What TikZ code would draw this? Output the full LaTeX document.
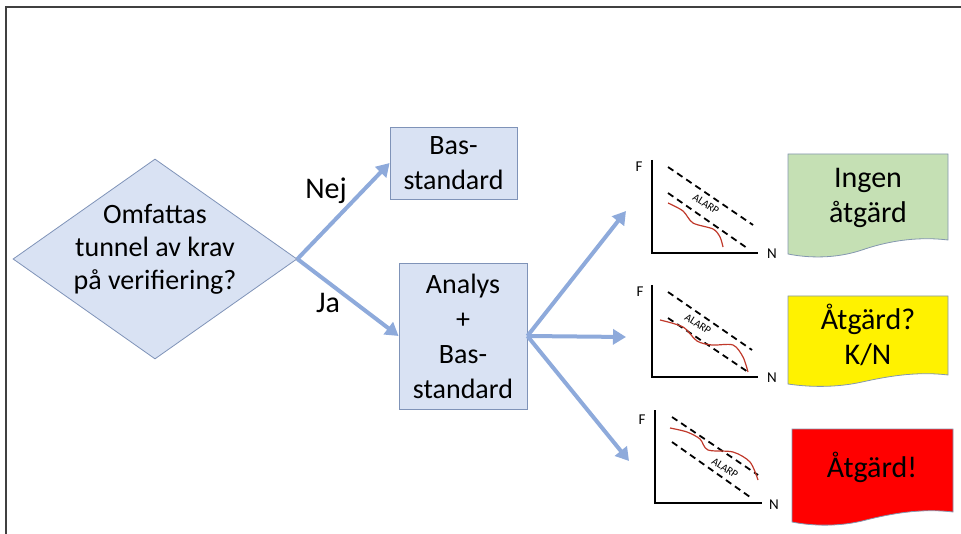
\documentclass[tikz,border=0pt]{standalone}
\usepackage{fontspec}
\setmainfont{Carlito}
\usetikzlibrary{shapes.geometric,arrows.meta}
\definecolor{boxfill}{HTML}{D9E2F3}
\definecolor{boxline}{HTML}{7F93B8}
\definecolor{arrowblue}{HTML}{8EAADB}
\definecolor{docgreen}{HTML}{C5E0B4}
\definecolor{docline}{HTML}{8497B0}
\definecolor{curvered}{HTML}{C0392B}
\tikzset{
  stepbox/.style={draw=boxline, fill=boxfill, line width=0.8pt, inner sep=0pt, align=center,
    font=\fontsize{28}{35}\selectfont},
  flow/.style={draw=arrowblue, line width=4pt, -{Triangle[length=13pt,width=15pt]}},
  answer/.style={font=\fontsize{30}{34}\selectfont},
  doc/.style={draw=docline, line width=0.8pt},
  doctext/.style={align=center, font=\fontsize{30}{35}\selectfont},
  axis/.style={line width=2pt, black},
  limit/.style={line width=1.8pt, black, dash pattern=on 6.5pt off 4.5pt},
  fn/.style={line width=1.2pt, curvered},
  axlabel/.style={font=\fontsize{15}{15}\selectfont, inner sep=0pt},
  zone/.style={font=\fontsize{11}{11}\selectfont, inner sep=0pt}
}
\begin{document}
\begin{tikzpicture}[x=1pt,y=-1pt]
\useasboundingbox (0,0) rectangle (961,534);
% page frame
\draw[line width=1.5pt, black!75] (6,534) -- (6,7) -- (961,7);

% decision
\node[draw=boxline, fill=boxfill, line width=0.8pt, shape=diamond, inner sep=0pt,
      minimum width=284pt, minimum height=200pt] (q) at (155,259) {};
\node[align=center, font=\fontsize{28}{33}\selectfont] (qt) at (155,249)
  {Omfattas\\tunnel av krav\\på verifiering?};

% boxes
\node[stepbox, minimum width=127pt, minimum height=72pt] (bas) at (453.5,163) {Bas-\\standard};
\node[stepbox, minimum width=128pt, minimum height=146pt] (ana) at (463,336) {Analys\\+\\Bas-\\standard};

\draw[flow] (q.east) -- (bas.west);
\draw[flow] (q.east) -- (ana.west);
\node[answer] (nej) at (326,191) {Nej};
\node[answer] (ja) at (328,303) {Ja};

% arrow targets in front of the charts
\coordinate (t1) at (626,211);
\coordinate (t2) at (626,337);
\coordinate (t3) at (629,461);
\draw[flow] (ana.east) -- (t1);
\draw[flow] (ana.east) -- (t2);
\draw[flow] (ana.east) -- (t3);

% chart 1
\draw[axis] (652,160) -- (652,253) -- (758,253);
\node[axlabel] (f1) at (639,167) {F};
\node[axlabel] (n1) at (772,254) {N};
\draw[limit] (668,167) -- (753,225);
\draw[limit] (668,193) -- (747,248);
\node[zone, rotate=-33] (a1) at (706,204) {ALARP};
\draw[fn] plot[smooth] coordinates {(668,203) (683,211) (693,223) (713,229) (720,237) (723,247)};

% chart 2
\draw[axis] (652,285) -- (652,377) -- (758,377);
\node[axlabel] (f2) at (640,292) {F};
\node[axlabel] (n2) at (772,378) {N};
\draw[limit] (668,292) -- (752,350);
\draw[limit] (668,318) -- (748,372);
\node[zone, rotate=-33] (a2) at (698,324) {ALARP};
\draw[fn] plot[smooth] coordinates {(660,320) (683,327) (697,341) (712,345) (733,345) (743,357) (748,372)};

% chart 3
\draw[axis] (655,410) -- (655,503) -- (762,503);
\node[axlabel] (f3) at (642,420) {F};
\node[axlabel] (n3) at (774,505) {N};
\draw[limit] (672,417) -- (758,475);
\draw[limit] (672,442) -- (750,497);
\node[zone, rotate=-33] (a3) at (725,468) {ALARP};
\draw[fn] plot[smooth] coordinates {(670,428) (687,432) (700,439) (708,450) (733,452) (750,462) (758,480)};

% outcome documents
\draw[doc, fill=docgreen] (788,154) -- (948,154) -- (948,240)
  .. controls (915,236) and (885,242) .. (862,250)
  .. controls (835,259) and (808,258) .. (788,254) -- cycle;
\node[doctext] (o1) at (868,198) {Ingen\\åtgärd};

\draw[doc, fill=yellow] (788,296) -- (948,296) -- (948,375)
  .. controls (915,371) and (885,377) .. (862,382)
  .. controls (835,388) and (808,387) .. (788,384) -- cycle;
\node[doctext] (o2) at (868,335) {Åtgärd?\\K/N};

\draw[doc, fill=red] (792,429) -- (953,429) -- (953,512)
  .. controls (920,508) and (890,514) .. (866,520)
  .. controls (840,527) and (812,526) .. (792,522) -- cycle;
\node[doctext] (o3) at (872,467) {Åtgärd!};
\end{tikzpicture}
\end{document}
